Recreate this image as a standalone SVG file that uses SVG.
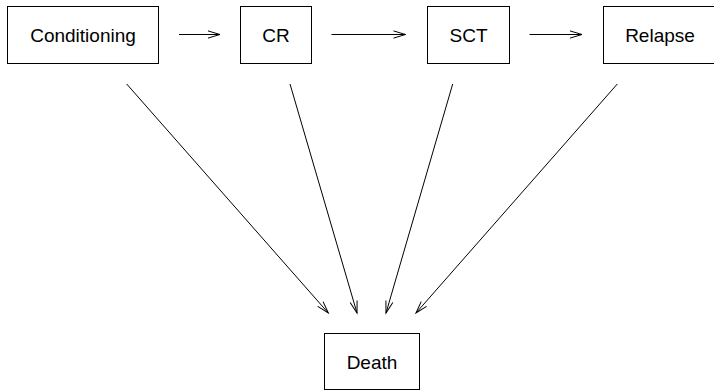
<svg xmlns="http://www.w3.org/2000/svg" width="714" height="390" viewBox="0 0 714 390">
<defs>
<style>
.box{fill:#fff;stroke:#000;stroke-width:1}
.lbl{font-family:"Liberation Sans",Arial,sans-serif;font-size:19px;fill:#000;text-anchor:middle}
.edge{stroke:#000;stroke-width:1;fill:none;marker-end:url(#ah)}
</style>
<marker id="ah" markerUnits="userSpaceOnUse" markerWidth="16" markerHeight="12" viewBox="-1 -6 15 12" refX="12" refY="0" orient="auto">
<path d="M0,-3.6 L12,0 L0,3.6" fill="none" stroke="#000" stroke-width="1"/>
</marker>
</defs>
<rect width="714" height="390" fill="#fff"/>
<g id="connectors">
<line class="edge" x1="179" y1="34.5" x2="220" y2="34.5"/>
<line class="edge" x1="331.5" y1="34.5" x2="405.5" y2="34.5"/>
<line class="edge" x1="529.5" y1="34.5" x2="582" y2="34.5"/>
<line class="edge" x1="126.7" y1="84" x2="328.3" y2="313"/>
<line class="edge" x1="290" y1="84" x2="357" y2="313"/>
<line class="edge" x1="452.7" y1="84" x2="386" y2="313"/>
<line class="edge" x1="617.3" y1="84" x2="416" y2="313"/>
</g>
<g id="conditioning">
<rect class="box" x="7.5" y="6.5" width="151" height="57"/>
<text class="lbl" x="83" y="41.5">Conditioning</text>
</g>
<g id="cr">
<rect class="box" x="240.5" y="6.5" width="71" height="57"/>
<text class="lbl" x="276" y="41.5">CR</text>
</g>
<g id="sct">
<rect class="box" x="427.5" y="6.5" width="82" height="57"/>
<text class="lbl" x="468.5" y="41.5">SCT</text>
</g>
<g id="relapse">
<rect class="box" x="603.5" y="6.5" width="114" height="57"/>
<text class="lbl" x="660" y="41.5">Relapse</text>
</g>
<g id="death">
<rect class="box" x="324.5" y="333.5" width="95" height="56"/>
<text class="lbl" x="372" y="369">Death</text>
</g>
</svg>
